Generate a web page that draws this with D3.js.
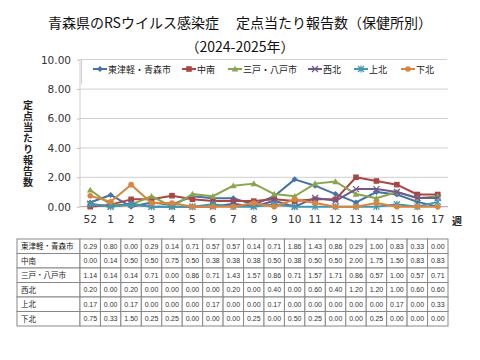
<!DOCTYPE html>
<html><head><meta charset="utf-8">
<script src="https://cdn.jsdelivr.net/npm/d3@7/dist/d3.min.js"></script>
<style>body{margin:0;background:#fff;}svg{display:block;}</style>
</head><body>
<svg id="c" width="480" height="360"></svg>
<script>
const weeks = ["52","1","2","3","4","5","6","7","8","9","10","11","12","13","14","15","16","17"];
const seriesNames = ["東津軽・青森市","中南","三戸・八戸市","西北","上北","下北"];
const higashitsugaru = [0.29,0.80,0.00,0.29,0.14,0.71,0.57,0.57,0.14,0.71,1.86,1.43,0.86,0.29,1.00,0.83,0.33,0.00];
const chunan = [0.00,0.14,0.50,0.50,0.75,0.50,0.38,0.38,0.38,0.50,0.38,0.50,0.50,2.00,1.75,1.50,0.83,0.83];
const sannohe = [1.14,0.14,0.14,0.71,0.00,0.86,0.71,1.43,1.57,0.86,0.71,1.57,1.71,0.86,0.57,1.00,0.57,0.71];
const seihoku = [0.20,0.00,0.20,0.00,0.00,0.00,0.00,0.20,0.00,0.40,0.00,0.60,0.40,1.20,1.20,1.00,0.60,0.60];
const kamikita = [0.17,0.00,0.17,0.00,0.00,0.00,0.17,0.00,0.00,0.17,0.00,0.00,0.00,0.00,0.00,0.17,0.00,0.33];
const shimokita = [0.75,0.33,1.50,0.25,0.25,0.00,0.00,0.00,0.25,0.00,0.50,0.25,0.00,0.00,0.25,0.00,0.00,0.00];
const yTicks = [0,2,4,6,8,10];
const allValues = [higashitsugaru, chunan, sannohe, seihoku, kamikita, shimokita];
const colors = ["#4572A7","#AA4643","#89A54E","#71588F","#4198AF","#DB843D"];
const markers = ["diamond","square","triangle","cross","star","circle"];

const svg = d3.select("#c");
const jp = "'Noto Sans CJK JP', sans-serif";
const L = 80, R = 448, T = 59.7, B = 206.7;
const x = d3.scaleBand().domain(weeks).range([L, R]);
const y = d3.scaleLinear().domain([0, 10]).range([B, T]);

// title
svg.append("text").attr("x", 240).attr("y", 28).attr("text-anchor", "middle")
  .attr("font-family", jp).attr("font-size", 14).attr("fill", "#111")
  .text("青森県のRSウイルス感染症　 定点当たり報告数（保健所別）");
svg.append("text").attr("x", 240).attr("y", 52).attr("text-anchor", "middle")
  .attr("font-family", jp).attr("font-size", 14).attr("fill", "#111")
  .text("（2024-2025年）");

// gridlines & y axis
const yAxis = d3.axisLeft(y).tickValues(yTicks).tickFormat(d3.format(".2f")).tickSize(3).tickPadding(6);
const gy = svg.append("g").attr("transform", `translate(${L},0)`).call(yAxis);
gy.select(".domain").remove();
gy.selectAll(".tick line").attr("stroke", "#bbb");
gy.selectAll(".tick text").attr("font-family", "'DejaVu Sans', sans-serif").attr("font-size", 10.5).attr("fill", "#333");
svg.append("g").selectAll("line").data(yTicks).join("line")
  .attr("x1", L).attr("x2", R).attr("y1", d => y(d)).attr("y2", d => y(d))
  .attr("stroke", d => d === 0 ? "#a0a0a0" : "#cfcfcf").attr("stroke-width", 1);
svg.append("line").attr("x1", L).attr("x2", L).attr("y1", T).attr("y2", B).attr("stroke", "#cfcfcf");

// x axis
const xAxis = d3.axisBottom(x).tickSize(0).tickPadding(9);
const gx = svg.append("g").attr("transform", `translate(0,${B})`).call(xAxis);
gx.select(".domain").remove();
gx.selectAll(".tick text").attr("font-family", "'DejaVu Sans', sans-serif").attr("font-size", 10.5).attr("fill", "#333");
svg.append("text").attr("x", 457).attr("y", 225).attr("text-anchor", "middle")
  .attr("font-family", jp).attr("font-size", 10).attr("font-weight", "bold").attr("fill", "#222").text("週");

// y title vertical
svg.append("text").attr("x", 28).attr("y", 100)
  .attr("font-family", jp).attr("font-size", 10).attr("font-weight", "bold").attr("fill", "#222")
  .style("writing-mode", "vertical-rl").style("letter-spacing", "1px")
  .text("定点当たり報告数");

// marker drawing
function drawMarker(g, type, cx, cy, color) {
  const s = 3;
  if (type === "diamond") {
    g.append("path").attr("d", `M${cx},${cy - s}L${cx + s},${cy}L${cx},${cy + s}L${cx - s},${cy}Z`).attr("fill", color);
  } else if (type === "square") {
    g.append("rect").attr("x", cx - 2.8).attr("y", cy - 2.8).attr("width", 5.6).attr("height", 5.6).attr("fill", color);
  } else if (type === "triangle") {
    g.append("path").attr("d", `M${cx},${cy - 3.3}L${cx + 3.3},${cy + 2.6}L${cx - 3.3},${cy + 2.6}Z`).attr("fill", color);
  } else if (type === "cross") {
    g.append("path").attr("d", `M${cx - s},${cy - s}L${cx + s},${cy + s}M${cx - s},${cy + s}L${cx + s},${cy - s}`).attr("stroke", color).attr("stroke-width", 1.2);
  } else if (type === "star") {
    g.append("path").attr("d", `M${cx - s},${cy - s}L${cx + s},${cy + s}M${cx - s},${cy + s}L${cx + s},${cy - s}M${cx},${cy - s - 0.5}L${cx},${cy + s + 0.5}`).attr("stroke", color).attr("stroke-width", 1.2);
  } else {
    g.append("circle").attr("cx", cx).attr("cy", cy).attr("r", 2.8).attr("fill", color);
  }
}

// lines
const line = d3.line().x((d, i) => x(weeks[i]) + x.bandwidth() / 2).y(d => y(d));
allValues.forEach((vals, si) => {
  const g = svg.append("g");
  g.append("path").datum(vals).attr("d", line).attr("fill", "none")
    .attr("stroke", colors[si]).attr("stroke-width", 2).attr("stroke-linejoin", "round");
  vals.forEach((v, i) => drawMarker(g, markers[si], x(weeks[i]) + x.bandwidth() / 2, y(v), colors[si]));
});

// legend
const lg = svg.append("g");
lg.append("rect").attr("x", 81).attr("y", 59).attr("width", 367).attr("height", 22).attr("fill", "#fff");
lg.append("line").attr("x1", 81).attr("x2", 447).attr("y1", 59.5).attr("y2", 59.5).attr("stroke", "#cfcfcf");
lg.append("line").attr("x1", 81.5).attr("x2", 81.5).attr("y1", 59).attr("y2", 84).attr("stroke", "#cfcfcf");
const legX = [93, 182, 228, 308, 354, 401];
seriesNames.forEach((n, i) => {
  const lx = legX[i], ly = 69;
  lg.append("line").attr("x1", lx).attr("x2", lx + 14).attr("y1", ly).attr("y2", ly).attr("stroke", colors[i]).attr("stroke-width", 2);
  drawMarker(lg, markers[i], lx + 7, ly, colors[i]);
  lg.append("text").attr("x", lx + 15).attr("y", ly + 3.5).attr("font-family", jp).attr("font-size", 9).attr("fill", "#222").text(n);
});

// table
const tb = svg.append("g");
const tTop = 239, rowH = 14.5, tLeft = 17;
seriesNames.forEach((n, ri) => {
  const ry = tTop + ri * rowH;
  tb.append("rect").attr("x", tLeft).attr("y", ry).attr("width", L - tLeft).attr("height", rowH)
    .attr("fill", "#fff").attr("stroke", "#888").attr("stroke-width", 1);
  tb.append("text").attr("x", tLeft + 4).attr("y", ry + rowH / 2 + 3).attr("font-family", jp)
    .attr("font-size", 7.5).attr("fill", "#222").text(n);
  allValues[ri].forEach((v, ci) => {
    tb.append("rect").attr("x", x(weeks[ci])).attr("y", ry).attr("width", x.bandwidth()).attr("height", rowH)
      .attr("fill", "#fff").attr("stroke", "#888").attr("stroke-width", 1);
    tb.append("text").attr("x", x(weeks[ci]) + x.bandwidth() / 2).attr("y", ry + rowH / 2 + 2.5)
      .attr("text-anchor", "middle").attr("font-family", "'Liberation Sans', sans-serif")
      .attr("font-size", 7).attr("fill", "#333").text(d3.format(".2f")(v));
  });
});
</script>
</body></html>
